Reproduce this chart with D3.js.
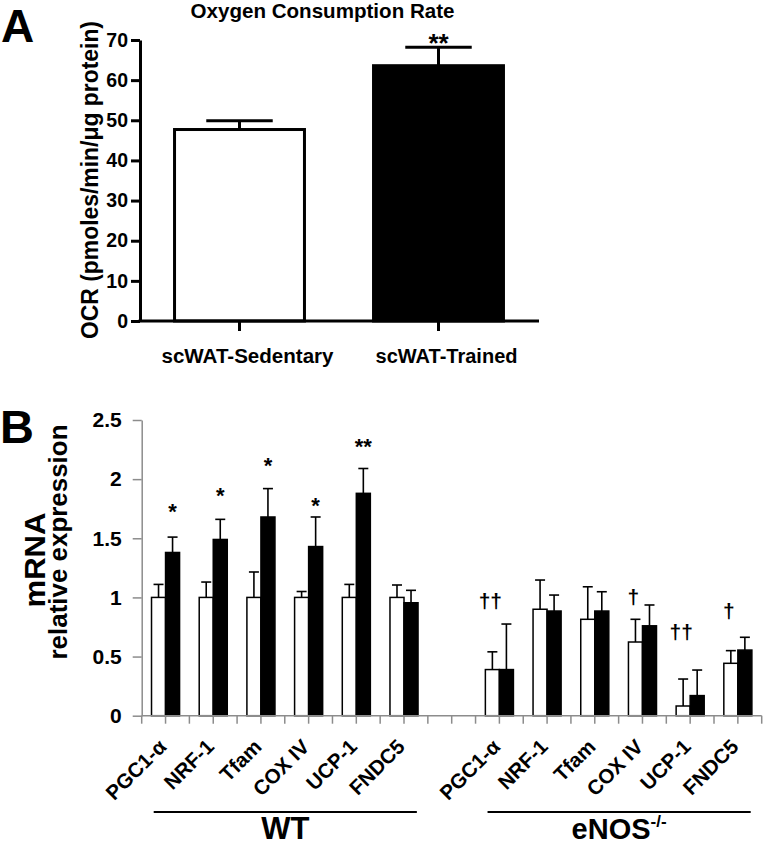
<!DOCTYPE html>
<html>
<head>
<meta charset="utf-8">
<script src="https://cdn.jsdelivr.net/npm/d3@7"></script>
<style>
  html, body { margin: 0; padding: 0; background: #fff; }
  svg { display: block; }
  text { font-family: "Liberation Sans", Arial, Helvetica, sans-serif; fill: #000; }
</style>
</head>
<body>
<script>
// ---------- Panel A data ----------
const ocrCategories = ["scWAT-Sedentary", "scWAT-Trained"];
const ocrValues = [47.7, 63.6];
const ocrErrors = [2.2, 4.6];
const ocrSignif = ["", "**"];
const ocrTicks = [0, 10, 20, 30, 40, 50, 60, 70];

// ---------- Panel B data ----------
const genes = ["PGC1-α", "NRF-1", "Tfam", "COX IV", "UCP-1", "FNDC5"];
const groups = ["WT", "eNOS"];
const wtSed = [1, 1, 1, 1, 1, 1];
const wtSedErr = [0.11, 0.13, 0.215, 0.05, 0.11, 0.105];
const wtTrained = [1.38, 1.49, 1.68, 1.43, 1.88, 0.955];
const wtTrainedErr = [0.13, 0.17, 0.24, 0.25, 0.21, 0.105];
const koSed = [0.39, 0.90, 0.815, 0.623, 0.082, 0.443];
const koSedErr = [0.15, 0.247, 0.275, 0.192, 0.228, 0.107];
const koTrained = [0.39, 0.885, 0.885, 0.76, 0.17, 0.555];
const koTrainedErr = [0.385, 0.135, 0.163, 0.176, 0.216, 0.108];
const wtStars = ["*", "*", "*", "*", "**", ""];
const wtStarLevel = [1.77, 1.90, 2.16, 1.82, 2.32, 0];
const koDaggers = ["††", "", "", "†", "††", "†"];
const koDaggerLevel = [0.96, 0, 0, 0.995, 0.70, 0.88];
const mrnaTicks = [0, 0.5, 1, 1.5, 2, 2.5];
const mrnaTickLabels = ["0", "0.5", "1", "1.5", "2", "2.5"];

const W = 777, H = 846;
const svg = d3.select("body").append("svg").attr("width", W).attr("height", H);
svg.append("rect").attr("width", W).attr("height", H).attr("fill", "#fff");

// ================= PANEL A =================
const gA = svg.append("g");
const yA = d3.scaleLinear().domain([0, 70]).range([321, 40]);
const xA = d3.scaleBand().domain(ocrCategories).range([140, 538])
  .paddingInner(0.332).paddingOuter(0.166);

gA.append("text").attr("x", 1).attr("y", 42).attr("font-size", 46)
  .attr("font-weight", "bold").text("A");

gA.append("text").attr("x", 322.5).attr("y", 18).attr("text-anchor", "middle")
  .attr("font-size", 20.5).attr("font-weight", "bold")
  .attr("textLength", 264).attr("lengthAdjust", "spacingAndGlyphs")
  .text("Oxygen Consumption Rate");

const ocrData = ocrCategories.map((c, i) => ({ c, v: ocrValues[i], e: ocrErrors[i], s: ocrSignif[i], i }));

// error bars (upward only)
ocrData.forEach(d => {
  const cx = xA(d.c) + xA.bandwidth() / 2;
  const top = yA(d.v + d.e);
  gA.append("line").attr("x1", cx).attr("x2", cx).attr("y1", yA(d.v)).attr("y2", top)
    .attr("stroke", "#000").attr("stroke-width", 3);
  gA.append("line").attr("x1", cx - xA.bandwidth() / 4).attr("x2", cx + xA.bandwidth() / 4)
    .attr("y1", top).attr("y2", top).attr("stroke", "#000").attr("stroke-width", 3);
});

gA.selectAll("rect.bar").data(ocrData).join("rect").attr("class", "bar")
  .attr("x", d => xA(d.c) + 1.5).attr("width", xA.bandwidth() - 3)
  .attr("y", d => yA(d.v)).attr("height", d => yA(0) - yA(d.v))
  .attr("fill", d => d.i === 0 ? "#fff" : "#000")
  .attr("stroke", "#000").attr("stroke-width", 3);

gA.selectAll("text.sig").data(ocrData.filter(d => d.s)).join("text").attr("class", "sig")
  .attr("x", d => xA(d.c) + xA.bandwidth() / 2).attr("y", 52)
  .attr("text-anchor", "middle").attr("font-size", 26).attr("font-weight", "bold")
  .text(d => d.s);

// axes A
const axA = gA.append("g").attr("transform", "translate(140,0)")
  .call(d3.axisLeft(yA).tickValues(ocrTicks).tickSize(9).tickSizeOuter(0).tickPadding(3));
axA.select(".domain").attr("stroke-width", 3).attr("stroke", "#000");
axA.selectAll(".tick line").attr("stroke-width", 3).attr("stroke", "#000");
axA.selectAll(".tick text").attr("font-size", 19.5).attr("font-weight", "bold")
  .attr("fill", "#000").attr("font-family", "Liberation Sans, Arial, sans-serif");

const axAx = gA.append("g").attr("transform", `translate(0,${yA(0)})`)
  .call(d3.axisBottom(xA).tickSize(10).tickSizeOuter(0).tickFormat(""));
axAx.select(".domain").attr("stroke-width", 3).attr("stroke", "#000")
  .attr("d", "M138.5,0H539");
axAx.selectAll(".tick line").attr("stroke-width", 3).attr("stroke", "#000");

const ocrLabelLen = [172, 142];
gA.selectAll("text.xl").data(ocrData).join("text").attr("class", "xl")
  .attr("x", d => xA(d.c) + xA.bandwidth() / 2 + 8).attr("y", 363)
  .attr("text-anchor", "middle").attr("font-size", 19.5).attr("font-weight", "bold")
  .attr("textLength", d => ocrLabelLen[d.i]).attr("lengthAdjust", "spacingAndGlyphs")
  .text(d => d.c);

gA.append("text").attr("transform", "translate(98,180) rotate(-90)")
  .attr("text-anchor", "middle").attr("font-size", 23).attr("font-weight", "bold")
  .attr("textLength", 318).attr("lengthAdjust", "spacingAndGlyphs")
  .text("OCR (pmoles/min/μg protein)");

// ================= PANEL B =================
const gB = svg.append("g");
const cats = [...genes.map(g => "WT|" + g), "gap", ...genes.map(g => "eNOS|" + g)];
const xB = d3.scaleBand().domain(cats).range([141.7, 761.7]);
const yB = d3.scaleLinear().domain([0, 2.5]).range([715.7, 420]);
const xSub = d3.scaleBand().domain(["sed", "trained"]).range([0, xB.bandwidth()]).paddingOuter(0.7);

const rows = [];
genes.forEach((g, i) => {
  rows.push({ cat: "WT|" + g, s: "sed", v: wtSed[i], e: wtSedErr[i] });
  rows.push({ cat: "WT|" + g, s: "trained", v: wtTrained[i], e: wtTrainedErr[i] });
  rows.push({ cat: "eNOS|" + g, s: "sed", v: koSed[i], e: koSedErr[i] });
  rows.push({ cat: "eNOS|" + g, s: "trained", v: koTrained[i], e: koTrainedErr[i] });
});

gB.append("text").attr("x", 0).attr("y", 443).attr("font-size", 47)
  .attr("font-weight", "bold").text("B");

// error bars
rows.forEach(d => {
  const cx = xB(d.cat) + xSub(d.s) + xSub.bandwidth() / 2;
  const top = yB(d.v + d.e);
  gB.append("line").attr("x1", cx).attr("x2", cx).attr("y1", yB(d.v)).attr("y2", top)
    .attr("stroke", "#000").attr("stroke-width", 1.6);
  gB.append("line").attr("x1", cx - 5).attr("x2", cx + 5).attr("y1", top).attr("y2", top)
    .attr("stroke", "#000").attr("stroke-width", 1.6);
});

gB.selectAll("rect.bar").data(rows).join("rect").attr("class", "bar")
  .attr("x", d => xB(d.cat) + xSub(d.s)).attr("width", xSub.bandwidth())
  .attr("y", d => yB(d.v)).attr("height", d => yB(0) - yB(d.v))
  .attr("fill", d => d.s === "sed" ? "#fff" : "#000")
  .attr("stroke", "#000").attr("stroke-width", 1.5);

// axes B
const grey = "#8c8c8c";
const axB = gB.append("g").attr("transform", "translate(141.7,0)")
  .call(d3.axisLeft(yB).tickValues(mrnaTicks).tickSize(9).tickSizeOuter(0).tickPadding(11)
    .tickFormat((d, i) => mrnaTickLabels[i]));
axB.select(".domain").attr("stroke", grey).attr("stroke-width", 1.5);
axB.selectAll(".tick line").attr("stroke", grey).attr("stroke-width", 1.5);
axB.selectAll(".tick text").attr("font-size", 21).attr("font-weight", "bold")
  .attr("fill", "#000").attr("font-family", "Liberation Sans, Arial, sans-serif");

// x axis B
const xTickPos = [];
cats.forEach(c => { xTickPos.push(xB(c)); xTickPos.push(xB(c) + xB.bandwidth() / 2); });
xTickPos.push(xB.range()[1]);
gB.append("line").attr("x1", 141.7).attr("x2", 761.7).attr("y1", yB(0)).attr("y2", yB(0))
  .attr("stroke", grey).attr("stroke-width", 1.5);
gB.selectAll("line.xt").data(xTickPos).join("line").attr("class", "xt")
  .attr("x1", d => d).attr("x2", d => d).attr("y1", yB(0)).attr("y2", yB(0) + 8)
  .attr("stroke", grey).attr("stroke-width", 1.5);

// category labels
gB.selectAll("text.cl").data(cats.filter(c => c !== "gap")).join("text").attr("class", "cl")
  .attr("transform", c => `translate(${xB(c) + xB.bandwidth() / 2 + 2},748) rotate(-45)`)
  .attr("text-anchor", "end").attr("font-size", 20.5).attr("font-weight", "bold")
  .text(c => c.split("|")[1]);

// significance
genes.forEach((g, i) => {
  if (wtStars[i]) {
    const cx = xB("WT|" + g) + xSub("trained") + xSub.bandwidth() / 2;
    gB.append("text").attr("x", cx).attr("y", yB(wtStarLevel[i]) + 12.5)
      .attr("text-anchor", "middle").attr("font-size", 22).attr("font-weight", "bold")
      .text(wtStars[i]);
  }
  if (koDaggers[i]) {
    const cx = xB("eNOS|" + g) + xSub("sed") + xSub.bandwidth() / 2 - 2;
    gB.append("text").attr("x", cx).attr("y", yB(koDaggerLevel[i]) + 6)
      .attr("text-anchor", "middle").attr("font-size", 21).attr("font-weight", "bold")
      .attr("fill", "#000")
      .text(koDaggers[i]);
  }
});

// group brackets
groups.forEach(gr => {
  const first = xB(gr + "|" + genes[0]);
  const last = xB(gr + "|" + genes[genes.length - 1]) + xB.bandwidth();
  const x1 = first + 12, x2 = last - 11;
  gB.append("line").attr("x1", x1).attr("x2", x2).attr("y1", 812).attr("y2", 812)
    .attr("stroke", "#000").attr("stroke-width", 2);
  const t = gB.append("text").attr("x", (x1 + x2) / 2).attr("y", 839)
    .attr("text-anchor", "middle").attr("font-weight", "bold");
  if (gr === "WT") {
    t.attr("font-size", 31).text("WT");
  } else {
    t.attr("font-size", 29);
    t.append("tspan").text("eNOS");
    t.append("tspan").attr("font-size", 17).attr("dy", -12).text("-/-");
  }
});

// y label B
gB.append("text").attr("transform", "translate(45,560) rotate(-90)")
  .attr("text-anchor", "middle").attr("font-size", 30).attr("font-weight", "bold")
  .attr("textLength", 95).attr("lengthAdjust", "spacingAndGlyphs").text("mRNA");
gB.append("text").attr("transform", "translate(67,542) rotate(-90)")
  .attr("text-anchor", "middle").attr("font-size", 25).attr("font-weight", "bold")
  .attr("textLength", 235).attr("lengthAdjust", "spacingAndGlyphs")
  .text("relative expression");
</script>
</body>
</html>
